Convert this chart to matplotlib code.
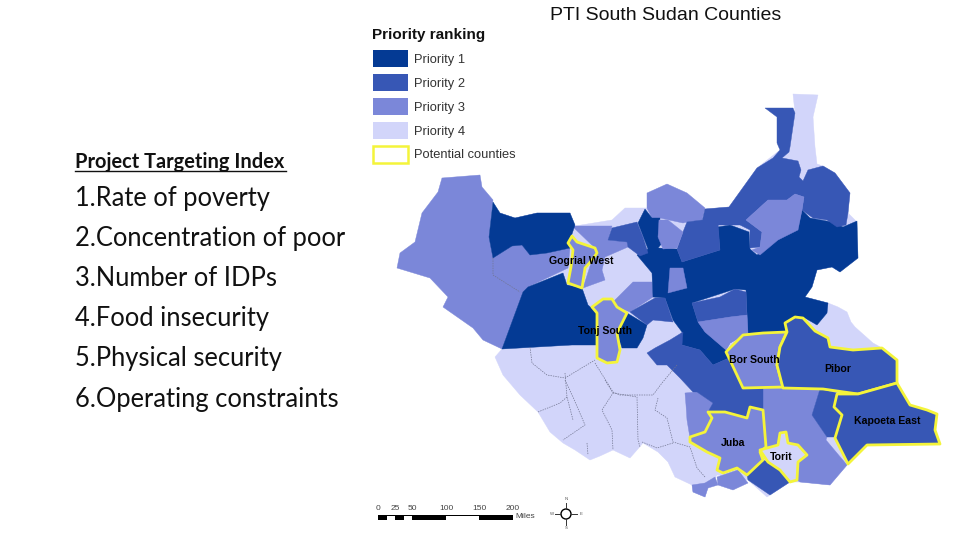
import matplotlib
matplotlib.use('Agg')
import matplotlib.pyplot as plt
from matplotlib.patches import Polygon, Rectangle, Circle

# map outlines (x, y in picture pixels)
country = [(793, 94), (818, 95), (813, 117), (815, 147), (817, 164), (823, 166), (835, 173), (850, 193),
           (848, 213), (856, 221), (858, 258), (840, 272), (832, 267), (817, 270), (812, 287), (805, 297),
           (828, 303), (838, 307), (847, 312), (851, 322), (855, 327), (873, 343), (882, 348), (897, 360),
           (897, 383), (875, 420), (848, 464), (830, 485), (800, 482), (790, 482), (767, 497), (748, 480),
           (717, 475), (707, 490), (705, 497), (693, 492), (692, 485), (675, 477), (668, 462), (658, 452),
           (643, 443), (637, 450), (630, 458), (613, 450), (600, 456), (590, 460), (575, 450), (563, 443),
           (550, 432), (538, 412), (520, 395), (503, 375), (495, 357), (502, 349), (523, 292), (493, 258),
           (500, 213), (515, 218), (537, 213), (570, 213), (575, 226), (612, 220), (625, 208), (645, 208),
           (705, 209), (729, 207), (757, 168), (780, 150), (790, 147), (795, 113)]

west = [(502, 349), (483, 340), (473, 328), (443, 307), (448, 297), (430, 278), (397, 268), (400, 253),
        (415, 242), (422, 213), (438, 192), (442, 178), (480, 175), (482, 187), (493, 200), (489, 237),
        (493, 258), (512, 246), (522, 245), (530, 255), (547, 253), (570, 248), (568, 268), (528, 287),
        (523, 292)]
northwest_dark = [(493, 202), (500, 213), (515, 218), (537, 213), (570, 213), (575, 225), (571, 237),
                  (570, 248), (547, 253), (530, 255), (522, 245), (512, 246), (493, 258), (489, 237)]
tonj_north = [(502, 349), (523, 292), (528, 287), (563, 273), (567, 285), (582, 288), (588, 305),
              (597, 313), (597, 345), (572, 345)]
tonj_east = [(627, 313), (647, 325), (643, 338), (637, 348), (622, 348), (617, 333)]
center_dark = [(638, 223), (645, 209), (652, 218), (660, 218), (659, 235), (663, 242), (658, 248),
               (677, 249), (682, 262), (720, 250), (718, 227), (730, 225), (749, 232), (750, 249),
               (757, 255), (777, 240), (798, 228), (802, 210), (810, 218), (832, 222), (843, 227),
               (857, 221), (858, 258), (840, 272), (832, 267), (817, 270), (812, 287), (805, 297),
               (828, 303), (827, 313), (817, 325), (805, 318), (793, 317), (785, 332), (748, 333),
               (746, 290), (735, 289), (692, 303), (698, 322), (705, 332), (726, 350), (729, 358),
               (713, 365), (700, 350), (682, 345), (682, 332), (673, 320), (665, 298), (653, 297),
               (652, 273), (637, 255), (648, 249)]

gogrial_east = [(572, 226), (612, 226), (608, 240), (627, 242), (628, 247), (605, 257), (602, 270),
                (605, 280), (583, 288), (592, 260), (597, 250)]
north_mid = [(647, 193), (667, 184), (687, 193), (705, 208), (702, 220), (687, 222), (683, 223),
             (660, 218), (652, 218), (647, 208)]
north_small = [(659, 220), (668, 220), (683, 232), (677, 248), (663, 249), (658, 237)]
warrap_mid = [(613, 302), (633, 282), (652, 282), (653, 297), (630, 312), (617, 307)]
center_sliver = [(670, 268), (683, 268), (687, 288), (668, 293)]
northeast_mid = [(746, 220), (768, 200), (787, 200), (795, 194), (804, 197), (802, 210), (798, 230),
                 (778, 240), (760, 255), (752, 250), (760, 247), (762, 232)]
jonglei_mid = [(698, 322), (730, 317), (747, 315), (748, 333), (730, 343), (726, 350), (705, 332)]
juba_west = [(685, 393), (697, 392), (713, 403), (708, 412), (712, 418), (705, 432), (690, 438),
             (687, 420), (686, 405)]
south_center = [(763, 388), (820, 389), (812, 415), (827, 437), (826, 440), (847, 465), (830, 485),
                (800, 482), (797, 480), (798, 462), (807, 455), (798, 445), (788, 443), (786, 432),
                (780, 433), (778, 445), (766, 447), (763, 410)]
south_juba = [(717, 477), (738, 470), (748, 483), (733, 490), (718, 485)]
south_tip = [(692, 485), (705, 483), (715, 477), (718, 485), (708, 488), (705, 497), (693, 492)]

mid_blue_left = [(612, 228), (637, 222), (643, 237), (648, 253), (640, 256), (628, 247), (627, 242),
                 (608, 240)]
mid_blue_center = [(687, 222), (702, 220), (718, 223), (720, 250), (682, 262), (677, 249), (683, 232)]
mid_blue_ne = [(702, 222), (705, 209), (729, 207), (757, 168), (773, 158), (780, 150), (777, 143),
               (777, 117), (765, 108), (793, 108), (795, 113), (790, 147), (789, 152), (782, 158),
               (798, 161), (801, 170), (799, 177), (803, 181), (808, 170), (823, 166), (835, 173),
               (850, 193), (848, 213), (846, 225), (837, 227), (827, 220), (813, 218), (802, 210),
               (804, 197), (795, 194), (787, 200), (768, 200), (746, 220), (762, 232), (760, 247),
               (750, 248), (750, 230), (740, 225), (717, 225)]
mid_blue_warrap = [(630, 312), (655, 298), (665, 298), (673, 322), (653, 320), (647, 325)]
mid_blue_strip = [(692, 303), (720, 297), (735, 289), (746, 292), (747, 315), (730, 317), (698, 322)]
mid_blue_bor_west = [(647, 353), (655, 348), (670, 340), (683, 332), (682, 345), (700, 350), (713, 365),
                     (729, 358), (743, 388), (763, 388), (763, 410), (750, 407), (747, 418), (725, 412),
                     (708, 412), (713, 403), (697, 392), (693, 392), (680, 378), (667, 365), (657, 365)]
mid_blue_east = [(820, 389), (837, 393), (834, 407), (842, 415), (835, 437), (827, 437), (812, 415)]
mid_blue_south = [(747, 475), (763, 460), (768, 462), (780, 470), (790, 482), (770, 495), (748, 480)]

gogrial_west = [(572, 236), (577, 242), (595, 248), (597, 253), (592, 260), (585, 268), (582, 288),
                (568, 283), (571, 267), (573, 250), (568, 243)]
tonj_south = [(592, 307), (603, 299), (612, 299), (617, 307), (627, 313), (617, 333), (620, 350),
              (617, 362), (607, 363), (597, 358), (597, 313)]
bor_south = [(726, 352), (743, 335), (763, 333), (787, 332), (780, 347), (777, 365), (783, 387),
             (743, 388), (729, 358)]
pibor = [(787, 332), (785, 323), (795, 317), (803, 318), (815, 331), (828, 338), (830, 347), (853, 350),
         (882, 348), (897, 360), (897, 383), (858, 394), (823, 389), (783, 388), (777, 365), (780, 347)]
kapoeta_east = [(837, 394), (858, 394), (897, 383), (910, 405), (927, 410), (937, 414), (935, 430),
                (940, 444), (867, 445), (848, 464), (835, 438), (842, 415), (834, 407)]
juba = [(708, 412), (725, 412), (747, 418), (750, 407), (763, 410), (766, 447), (760, 452), (763, 460),
        (747, 475), (737, 468), (723, 473), (717, 470), (720, 458), (707, 452), (690, 442), (690, 437),
        (705, 432), (712, 418)]
torit = [(780, 433), (786, 432), (788, 443), (798, 445), (807, 455), (798, 462), (797, 480), (790, 482),
         (780, 470), (768, 462), (760, 450), (778, 445)]

# county lines that show as dashes
south_lines = [[(530, 347), (532, 363), (547, 375), (565, 378), (595, 360)],
               [(565, 373), (567, 397), (573, 420)],
               [(595, 363), (613, 392), (620, 395), (653, 395), (662, 383), (677, 365)],
               [(538, 412), (560, 403), (567, 397)],
               [(565, 380), (573, 397), (585, 425), (563, 440)],
               [(605, 380), (613, 393), (602, 410), (612, 430), (613, 450)],
               [(613, 393), (637, 397), (638, 440), (640, 447)],
               [(658, 398), (655, 410), (667, 418), (673, 442), (690, 447), (697, 468), (705, 477)],
               [(587, 443), (588, 455)],
               [(642, 442), (657, 448), (673, 443)],
               [(493, 258), (493, 275), (520, 292)]]

index_title = 'Project Targeting Index'
index_items = ['1.Rate of poverty', '2.Concentration of poor', '3.Number of IDPs',
               '4.Food insecurity', '5.Physical security', '6.Operating constraints']
legend_labels = ['Priority 1', 'Priority 2', 'Priority 3', 'Priority 4']
scale_labels = ['0', '25', '50', '100', '150', '200']
county_names = ['Gogrial West', 'Tonj South', 'Bor South', 'Pibor', 'Kapoeta East', 'Juba', 'Torit']

P1 = '#043a94'
P2 = '#3757b5'
P3 = '#7b87d9'
P4 = '#d2d5fa'
YELLOW = '#f4f43a'

fig = plt.figure(figsize=(9.6, 5.4), dpi=100)
ax = fig.add_axes([0, 0, 1, 1])
ax.set_xlim(0, 960)
ax.set_ylim(540, 0)
ax.axis('off')


def add_region(points, color):
    ax.add_patch(Polygon(points, closed=True, facecolor=color, edgecolor=color, linewidth=0.3))


add_region(country, P4)
for region in [west, gogrial_east, north_mid, warrap_mid, jonglei_mid, juba_west, south_center,
               south_juba, south_tip]:
    add_region(region, P3)
for region in [northwest_dark, tonj_north, tonj_east, center_dark]:
    add_region(region, P1)
for region in [mid_blue_left, mid_blue_center, mid_blue_ne, mid_blue_warrap, mid_blue_strip,
               mid_blue_bor_west, mid_blue_east, mid_blue_south]:
    add_region(region, P2)
for region in [north_small, center_sliver, northeast_mid, jonglei_mid]:
    add_region(region, P3)

for line in south_lines:
    xs, ys = zip(*line)
    ax.plot(xs, ys, color='#70748f', linewidth=0.5, linestyle=(0, (2, 1.5)))

# potential counties go on top with the yellow edge
targets = [(gogrial_west, P3), (tonj_south, P3), (bor_south, P3), (pibor, P2),
           (kapoeta_east, P2), (juba, P3), (torit, P4)]
for region, color in targets:
    ax.add_patch(Polygon(region, closed=True, facecolor=color, edgecolor=YELLOW, linewidth=2.0,
                         joinstyle='round'))

# left text block
ax.text(75, 168, index_title, family='Lato', fontsize=14.4, fontweight='bold', va='baseline',
        color='#111111')
ax.plot([75, 286], [171, 171], color='#111111', linewidth=1.0)
for y, item in zip([206, 246, 286, 326, 366, 407], index_items):
    ax.text(75, y, item, family='Lato', fontsize=18.4, va='baseline', color='#111111')

ax.text(550, 15, 'PTI South Sudan Counties', family='Liberation Sans', fontsize=14, va='center',
        color='#111111')

# legend
ax.text(372, 35, 'Priority ranking', family='Liberation Sans', fontsize=11, fontweight='bold',
        va='center', color='#111111')
for y, color, label in zip([50, 74, 98, 122], [P1, P2, P3, P4], legend_labels):
    ax.add_patch(Rectangle((373, y), 35, 17, facecolor=color, edgecolor='none'))
    ax.text(414, y + 9.5, label, family='Liberation Sans', fontsize=9.3, va='center', color='#333333')
ax.add_patch(Rectangle((373, 146), 35, 17, facecolor='white', edgecolor=YELLOW, linewidth=1.8))
ax.text(414, 155, 'Potential counties', family='Liberation Sans', fontsize=9.3, va='center',
        color='#333333')

# county names
name_spots = [(581, 261), (605, 331), (754, 360), (838, 369), (887, 421), (733, 443), (781, 457)]
for (x, y), name in zip(name_spots, county_names):
    ax.text(x, y, name, family='Liberation Sans', fontsize=7.6, ha='center', va='center',
            color='black', fontweight='bold')

# scale bar
stops = [378, 395, 412, 446, 479, 513]
ax.add_patch(Rectangle((378, 514.5), 135, 5, facecolor='black', edgecolor='none'))
ax.add_patch(Rectangle((387, 515.5), 8, 4, facecolor='white', edgecolor='none'))
ax.add_patch(Rectangle((404, 515.5), 8, 4, facecolor='white', edgecolor='none'))
ax.add_patch(Rectangle((446, 515.5), 33, 4, facecolor='white', edgecolor='none'))
for x, label in zip(stops, scale_labels):
    ax.text(x, 508, label, family='Liberation Sans', fontsize=6, ha='center', va='center',
            color='#444444')
ax.text(515, 517, 'Miles', family='Liberation Sans', fontsize=6, va='center', color='#444444')

# north arrow
ax.add_patch(Circle((566, 514), 5, facecolor='white', edgecolor='black', linewidth=1.0))
ax.plot([566, 566], [503, 509], color='#333333', linewidth=0.7)
ax.plot([566, 566], [519, 525], color='#333333', linewidth=0.7)
ax.plot([555, 561], [514, 514], color='#333333', linewidth=0.7)
ax.plot([571, 577], [514, 514], color='#333333', linewidth=0.7)
for x, y, letter in [(566, 499, 'N'), (566, 528, 'S'), (552, 514, 'W'), (581, 514, 'E')]:
    ax.text(x, y, letter, family='Liberation Sans', fontsize=3.2, ha='center', va='center',
            color='#555555')

fig.savefig('out.png', dpi=100)
